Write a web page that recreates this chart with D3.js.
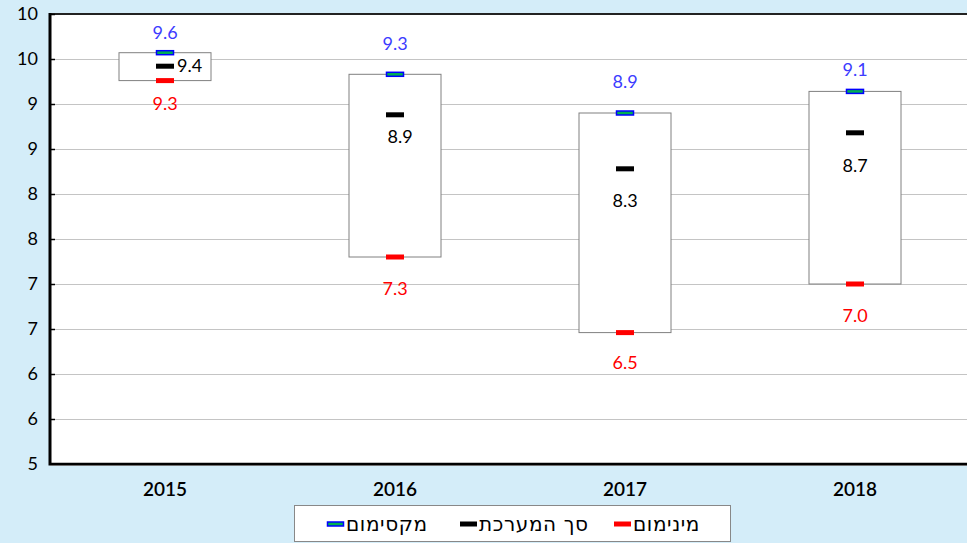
<!DOCTYPE html>
<html>
<head>
<meta charset="utf-8">
<script src="https://cdn.jsdelivr.net/npm/d3@7"></script>
<style>
  body { margin: 0; background: #d4edf9; }
  svg { display: block; font-family: Lato, "DejaVu Sans", sans-serif; }
</style>
</head>
<body>
<svg width="967" height="543"></svg>
<script>
var years = ["2015", "2016", "2017", "2018"];
var maxValues = [9.57, 9.33, 8.9, 9.14];
var totalValues = [9.42, 8.88, 8.28, 8.68];
var minValues = [9.26, 7.3, 6.46, 7.0];

var yTickValues = [5, 5.5, 6, 6.5, 7, 7.5, 8, 8.5, 9, 9.5, 10];
var yTickLabels = ["5", "6", "6", "7", "7", "8", "8", "9", "9", "10", "10"];

var legendNames = ["מקסימום", "סך המערכת", "מינימום"];

// label placement (pixels) as the original chart put them
var maxLabelDy = [-14, -24, -25, -15];
var minLabelDy = [29, 38, 36, 38];
var totalLabelDy = [6, 28, 38, 39];

var svg = d3.select("svg");
var width = +svg.attr("width");
var margin = {top: 14, left: 50, bottom: 464};

var x = d3.scaleBand()
    .domain(years)
    .range([margin.left, margin.left + 920]);

var y = d3.scaleLinear()
    .domain([5, 10])
    .range([margin.bottom, margin.top]);

var rows = years.map(function(d, i) {
    return {year: d, max: maxValues[i], total: totalValues[i], min: minValues[i], i: i};
});

// plot area
svg.append("rect")
    .attr("x", margin.left)
    .attr("y", margin.top)
    .attr("width", width - margin.left)
    .attr("height", margin.bottom - margin.top)
    .attr("fill", "white");

// gridlines
svg.append("g")
    .selectAll("line")
    .data(yTickValues.slice(1, -1))
    .enter().append("line")
    .attr("x1", margin.left)
    .attr("x2", width)
    .attr("y1", function(d) { return Math.round(y(d)) + 0.5; })
    .attr("y2", function(d) { return Math.round(y(d)) + 0.5; })
    .attr("stroke", "#c4c4c4")
    .attr("stroke-width", 1);

// top border
svg.append("line")
    .attr("x1", margin.left).attr("x2", width)
    .attr("y1", margin.top).attr("y2", margin.top)
    .attr("stroke", "#222").attr("stroke-width", 2);

// y axis
var yAxis = svg.append("g")
    .attr("transform", "translate(" + margin.left + ",0)")
    .call(d3.axisRight(y)
        .tickValues(yTickValues)
        .tickSize(5)
        .tickFormat(function(d, i) { return yTickLabels[i]; }));
yAxis.select(".domain").remove();
yAxis.selectAll(".tick line").attr("stroke", "black").attr("stroke-width", 1.5);
yAxis.selectAll(".tick text")
    .attr("x", -12)
    .attr("text-anchor", "end")
    .attr("fill", "black")
    .style("font-size", "18px")
    .style("font-family", "Lato, 'DejaVu Sans', sans-serif");

svg.append("line")
    .attr("x1", margin.left).attr("x2", margin.left)
    .attr("y1", margin.top - 1).attr("y2", margin.bottom + 1.5)
    .attr("stroke", "black").attr("stroke-width", 3);

// x axis
svg.append("line")
    .attr("x1", margin.left).attr("x2", width)
    .attr("y1", margin.bottom + 1.5).attr("y2", margin.bottom + 1.5)
    .attr("stroke", "#999").attr("stroke-width", 1);
svg.append("line")
    .attr("x1", margin.left).attr("x2", width)
    .attr("y1", margin.bottom).attr("y2", margin.bottom)
    .attr("stroke", "black").attr("stroke-width", 2.5);

svg.append("g")
    .selectAll("text")
    .data(years)
    .enter().append("text")
    .attr("x", function(d) { return x(d) + x.bandwidth() / 2; })
    .attr("y", 496)
    .attr("text-anchor", "middle")
    .style("font-size", "19px")
    .style("font-weight", "600")
    .text(function(d) { return d; });

var fmt = d3.format(".1f");
var boxW = x.bandwidth() * 0.4;
var markW = 18, markH = 5;

var g = svg.append("g")
    .selectAll("g")
    .data(rows)
    .enter().append("g")
    .attr("transform", function(d) { return "translate(" + (x(d.year) + x.bandwidth() / 2) + ",0)"; });

g.append("rect")
    .attr("x", -boxW / 2)
    .attr("y", function(d) { return y(d.max); })
    .attr("width", boxW)
    .attr("height", function(d) { return y(d.min) - y(d.max); })
    .attr("fill", "white")
    .attr("stroke", "#808080")
    .attr("stroke-width", 1);

// max markers
g.append("rect")
    .attr("x", -markW / 2 + 0.5)
    .attr("y", function(d) { return y(d.max) - markH / 2 + 0.5; })
    .attr("width", markW - 1)
    .attr("height", markH - 1)
    .attr("fill", "#00b050")
    .attr("stroke", "#0000ff")
    .attr("stroke-width", 1.5);

g.append("rect")
    .attr("x", -markW / 2)
    .attr("y", function(d) { return y(d.total) - markH / 2; })
    .attr("width", markW)
    .attr("height", markH)
    .attr("fill", "black");

g.append("rect")
    .attr("x", -markW / 2)
    .attr("y", function(d) { return y(d.min) - markH / 2; })
    .attr("width", markW)
    .attr("height", markH)
    .attr("fill", "#ff0000");

// labels
g.append("text")
    .attr("y", function(d) { return y(d.max) + maxLabelDy[d.i]; })
    .attr("text-anchor", "middle")
    .attr("fill", "#3c3cff")
    .style("font-size", "18px")
    .text(function(d) { return fmt(d.max); });

g.append("text")
    .attr("y", function(d) { return y(d.min) + minLabelDy[d.i]; })
    .attr("text-anchor", "middle")
    .attr("fill", "#ff0000")
    .style("font-size", "18px")
    .text(function(d) { return fmt(d.min); });

g.append("text")
    .attr("x", function(d) { return d.i === 0 ? markW / 2 + 3 : (d.i === 1 ? 5 : 0); })
    .attr("y", function(d) { return y(d.total) + totalLabelDy[d.i]; })
    .attr("text-anchor", function(d) { return d.i === 0 ? "start" : "middle"; })
    .attr("fill", "black")
    .style("font-size", "18px")
    .text(function(d) { return fmt(d.total); });

// legend
var legend = svg.append("g");
legend.append("rect")
    .attr("x", 294.5).attr("y", 505.5)
    .attr("width", 436).attr("height", 36)
    .attr("fill", "white")
    .attr("stroke", "#888");

var legendStarts = [327, 460, 614];
var item = legend.selectAll(".item")
    .data(legendNames)
    .enter().append("g")
    .attr("class", "item")
    .attr("transform", function(d, i) { return "translate(" + legendStarts[i] + ",524)"; });

item.append("rect")
    .attr("x", function(d, i) { return i === 0 ? 0.5 : 0; })
    .attr("y", function(d, i) { return i === 0 ? -2 : -2.5; })
    .attr("width", function(d, i) { return i === 0 ? 16 : 17; })
    .attr("height", function(d, i) { return i === 0 ? 4 : 5; })
    .attr("fill", function(d, i) { return ["#00b050", "black", "#ff0000"][i]; })
    .attr("stroke", function(d, i) { return i === 0 ? "#0000ff" : "none"; })
    .attr("stroke-width", 1.5);

item.append("text")
    .attr("x", 19)
    .attr("y", 7)
    .style("font-size", "20px")
    .style("letter-spacing", "0.6px")
    .style("font-family", "'DejaVu Sans', sans-serif")
    .text(function(d) { return d; });
</script>
</body>
</html>
